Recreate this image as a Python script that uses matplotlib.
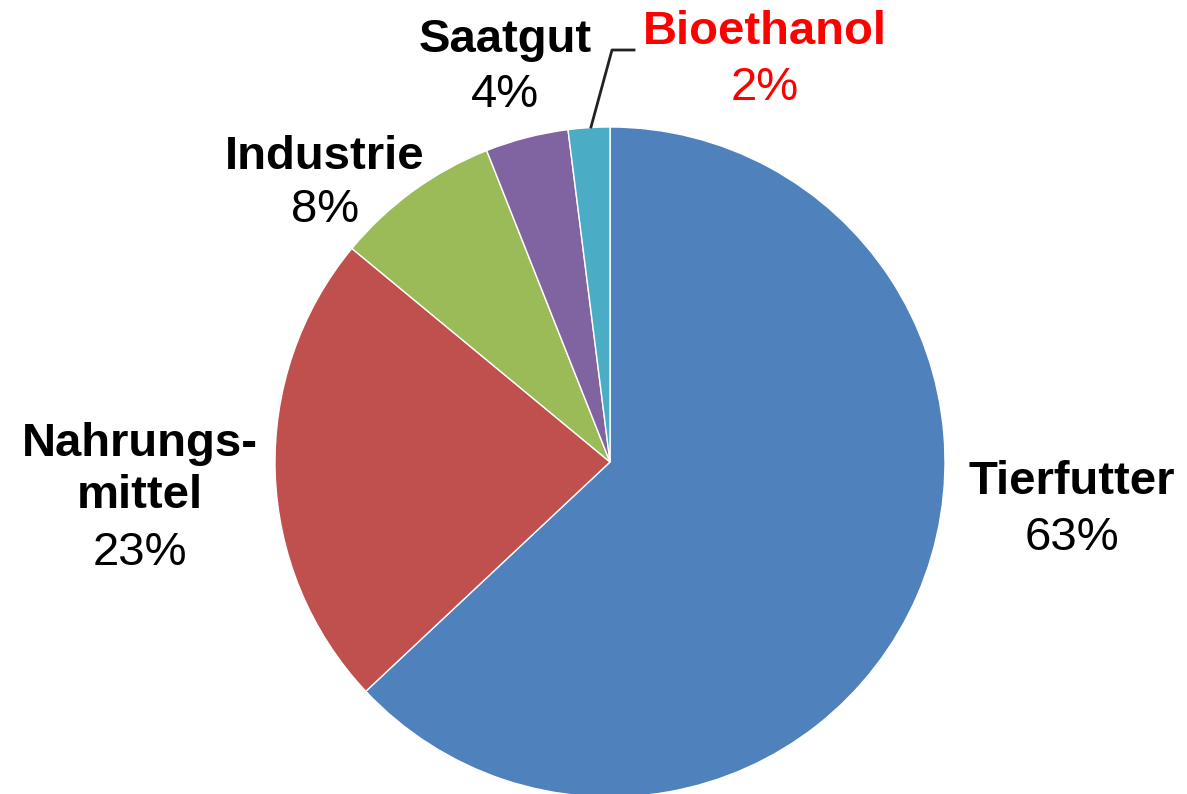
import matplotlib.pyplot as plt

plt.rcParams['font.family'] = ['Liberation Sans', 'DejaVu Sans']

# data
labels = ['Tierfutter', 'Nahrungs-\nmittel', 'Industrie', 'Saatgut', 'Bioethanol']
values = [63, 23, 8, 4, 2]
colors = ['#4F81BD', '#C0504D', '#9BBB59', '#8064A2', '#4BACC6']
text_colors = ['black', 'black', 'black', 'black', '#FF0000']

W, H = 1187, 794
fig = plt.figure(figsize=(W / 100, H / 100), dpi=100)
ax = fig.add_axes([0, 0, 1, 1])
ax.set_xlim(0, W)
ax.set_ylim(0, H)
ax.set_aspect('equal')
ax.axis('off')

cx, cy, r = 610, H - 462, 335
ax.pie(values, colors=colors, startangle=90, counterclock=False,
       center=(cx, cy), radius=r, frame=True,
       wedgeprops=dict(edgecolor='white', linewidth=1))
ax.set_xlim(0, W)
ax.set_ylim(0, H)
ax.axis('off')

# label positions in pixel coords (x, y of name, y of percent)
label_pos = [(1072, 482, 538), (140, 470, 553), (325, 157, 210),
             (505, 40, 95), (765, 32, 88)]
fs = 34
for lab, val, tc, (x, yn, yp) in zip(labels, values, text_colors, label_pos):
    ax.text(x, H - yn, lab, ha='center', va='center', fontsize=fs,
            fontweight='bold', color=tc, linespacing=1.25)
    ax.text(x, H - yp, f'{val}%', ha='center', va='center', fontsize=fs,
            color=tc)

# leader line for Bioethanol
ax.plot([591, 612, 634], [H - 127, H - 50, H - 50], color='#222222', lw=2)

fig.savefig('out.png', dpi=100, facecolor='white')
